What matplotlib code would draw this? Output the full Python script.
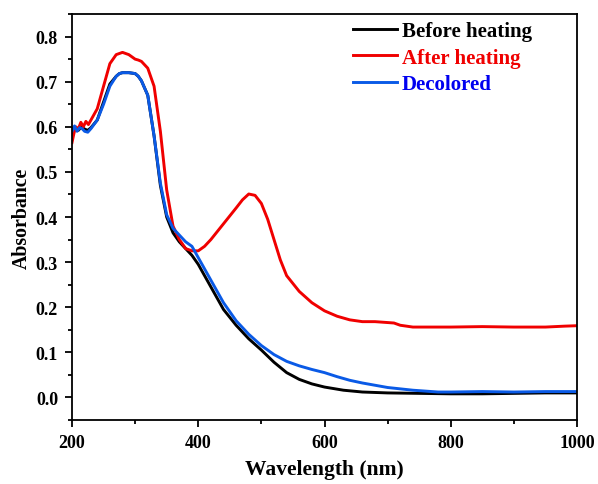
import matplotlib.pyplot as plt
from matplotlib.ticker import MultipleLocator

plt.rcParams['font.family'] = ['Liberation Serif', 'DejaVu Serif']
plt.rcParams['font.weight'] = 'bold'

# wavelength (nm) and absorbance
wl_before = [200, 205, 210, 215, 220, 225, 230, 240, 250, 260, 270, 275, 280, 290, 300, 305, 310,
             320, 330, 340, 350, 360, 370, 380, 390, 400, 420, 440, 460, 480, 500, 520,
             540, 560, 580, 600, 630, 660, 700, 750, 800, 850, 900, 950, 1000]
abs_before = [0.585, 0.598, 0.592, 0.600, 0.595, 0.592, 0.598, 0.615, 0.655, 0.695, 0.712, 0.718, 0.720,
              0.720, 0.718, 0.712, 0.702, 0.670, 0.580, 0.470, 0.400, 0.365, 0.345, 0.330, 0.315, 0.295,
              0.245, 0.195, 0.160, 0.130, 0.105, 0.078, 0.055, 0.040, 0.030, 0.023, 0.016, 0.012,
              0.010, 0.009, 0.008, 0.008, 0.009, 0.010, 0.010]

wl_after = [200, 203, 206, 210, 214, 218, 222, 226, 230, 240, 250, 260, 270, 280, 290, 300,
            305, 310, 320, 330, 340, 350, 360, 370, 380, 390, 400, 410, 420, 440, 460, 470,
            480, 490, 500, 510, 520, 530, 540, 560, 580, 600, 620, 640, 660, 680, 700, 710,
            720, 740, 800, 850, 900, 950, 980, 1000]
abs_after = [0.565, 0.585, 0.600, 0.595, 0.610, 0.600, 0.612, 0.605, 0.615, 0.640, 0.690, 0.740,
             0.760, 0.765, 0.760, 0.750, 0.748, 0.745, 0.730, 0.690, 0.590, 0.460, 0.380, 0.350,
             0.330, 0.325, 0.325, 0.335, 0.350, 0.385, 0.420, 0.438, 0.451, 0.448, 0.430, 0.395,
             0.350, 0.305, 0.270, 0.235, 0.210, 0.192, 0.180, 0.172, 0.168, 0.168, 0.166, 0.165,
             0.160, 0.156, 0.156, 0.157, 0.156, 0.156, 0.158, 0.159]

wl_decol = [200, 204, 208, 212, 216, 220, 225, 230, 240, 250, 260, 270, 275, 280, 290, 300, 305, 310,
            320, 330, 340, 350, 360, 370, 380, 390, 400, 420, 440, 460, 480, 500, 520, 540,
            560, 580, 600, 620, 640, 660, 680, 700, 720, 740, 760, 780, 800, 850, 900, 950, 1000]
abs_decol = [0.590, 0.602, 0.590, 0.598, 0.596, 0.590, 0.588, 0.596, 0.615, 0.650, 0.690, 0.712, 0.718,
             0.720, 0.720, 0.718, 0.712, 0.702, 0.670, 0.580, 0.475, 0.405, 0.375, 0.360, 0.345, 0.335,
             0.310, 0.260, 0.210, 0.170, 0.140, 0.115, 0.095, 0.080, 0.070, 0.062, 0.055, 0.046,
             0.038, 0.032, 0.027, 0.022, 0.019, 0.016, 0.014, 0.012, 0.012, 0.013, 0.012, 0.013,
             0.013]

fig = plt.figure(figsize=(5.98, 4.85), dpi=100)
ax = fig.add_axes([0.1204, 0.132, 0.8445, 0.837])

ax.plot(wl_before, abs_before, color='black', lw=2.1, label='Before heating')
ax.plot(wl_after, abs_after, color='#f00000', lw=2.1, label='After heating')
ax.plot(wl_decol, abs_decol, color='#0a5ae6', lw=2.1, label='Decolored')

ax.set_xlim(200, 1000)
ax.set_ylim(-0.05, 0.85)
ax.xaxis.set_major_locator(MultipleLocator(200))
ax.xaxis.set_minor_locator(MultipleLocator(100))
ax.yaxis.set_major_locator(MultipleLocator(0.1))
ax.yaxis.set_minor_locator(MultipleLocator(0.05))
ax.tick_params(which='both', direction='out', width=1.3, labelsize=13, top=False, right=False)
ax.tick_params(which='major', length=5, pad=5)
ax.tick_params(which='minor', length=3)
for s in ax.spines.values():
    s.set_linewidth(1.3)

ax.set_xlabel('Wavelength (nm)', fontsize=15.5, fontweight='bold', labelpad=6)
ax.set_ylabel('Absorbance', fontsize=14.3, fontweight='bold', labelpad=3)

leg = ax.legend(loc='upper left', bbox_to_anchor=(0.556, 0.982), frameon=False,
                fontsize=15, handlelength=2.1, handletextpad=0.25, labelspacing=0.3,
                borderpad=0, borderaxespad=0)
for txt, c in zip(leg.get_texts(), ['black', '#f00000', '#0000f0']):
    txt.set_color(c)
    txt.set_fontweight('bold')

fig.savefig('out.png', dpi=100)
